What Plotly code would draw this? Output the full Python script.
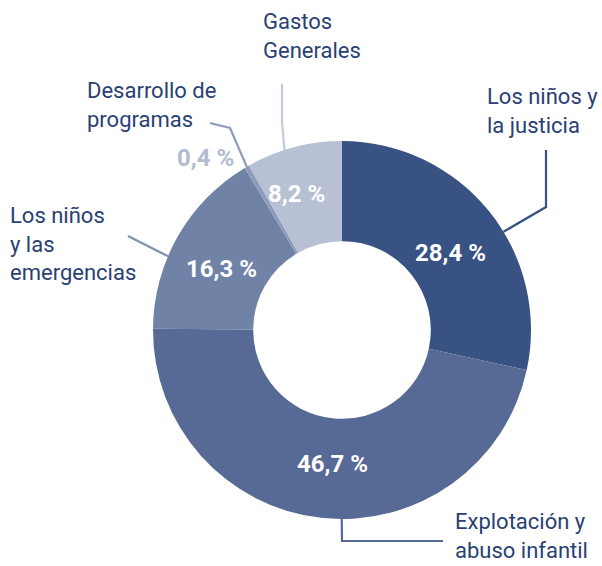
import math
import plotly.graph_objects as go

W, H = 602, 566

categories = ["Los niños y<br>la justicia", "Explotación y<br>abuso infantil",
              "Los niños<br>y las<br>emergencias", "Desarrollo de<br>programas",
              "Gastos<br>Generales"]
values = [28.4, 46.7, 16.3, 0.4, 8.2]
pct_labels = ["28,4 %", "46,7 %", "16,3 %", "0,4 %", "8,2 %"]
colors = ["#385283", "#566a95", "#7083a7", "#8e9cbb", "#b8c1d4"]
line_colors = ["#385283", "#566a95", "#7f90b0", "#8e9cbb", "#c3cad9"]

# geometry (layout)
CX, CY, R = 342, 330, 189
HOLE = 0.47
FONT = "Roboto"
NAVY = "#2a3f74"

def X(px):
    return px / W

def Y(py):
    return 1 - py / H

fig = go.Figure()
fig.add_trace(go.Pie(
    values=values, labels=categories, sort=False, direction="clockwise",
    rotation=0, hole=HOLE, marker=dict(colors=colors, line=dict(width=0)),
    textinfo="none", hoverinfo="skip", showlegend=False,
    domain=dict(x=[X(CX - R), X(CX + R)], y=[Y(CY + R), Y(CY - R)]),
))

total = sum(values)
starts, cum = [], 0.0
for v in values:
    starts.append(cum)
    cum += v

def point(i, frac, r):
    ang = (starts[i] + frac * values[i]) / total * 2 * math.pi
    return CX + r * math.sin(ang), CY - r * math.cos(ang)

annotations = []
# percentage labels
rmid = R * (1 + HOLE) / 2
inside_offsets = {0: (0, 10), 1: (6, -4), 2: (0, 8), 4: (-10, -2)}
for i, t in enumerate(pct_labels):
    if i == 3:
        continue
    x, y = point(i, 0.5, rmid)
    dx, dy = inside_offsets.get(i, (0, 0))
    annotations.append(dict(x=X(x + dx), y=Y(y + dy), xref="paper", yref="paper",
                            text=f"<b>{t}</b>", showarrow=False,
                            font=dict(family=FONT, size=24, color="white"),
                            xanchor="center", yanchor="middle"))
annotations.append(dict(x=X(205), y=Y(158), xref="paper", yref="paper",
                        text=f"<b>{pct_labels[3]}</b>", showarrow=False,
                        font=dict(family=FONT, size=24, color="#b2bccf"),
                        xanchor="center", yanchor="middle"))

# name labels: (left x, center y, vertical anchor)
name_pos = [(485, 111, "middle"), (453, 565, "bottom"), (8, 244, "middle"),
            (85, 105, "middle"), (261, 36, "middle")]
for i, (lx, ly, ya) in enumerate(name_pos):
    annotations.append(dict(x=X(lx), y=Y(ly), xref="paper", yref="paper",
                            text=categories[i], showarrow=False, align="left",
                            font=dict(family=FONT, size=22, color=NAVY),
                            xanchor="left", yanchor=ya))

# leader lines: anchor (slice index, fraction within slice) + elbow points
leaders = [
    (0, 0.574, [(546, 207), (546, 150)]),
    (1, 0.463, [(342, 541), (443, 541)]),
    (2, 0.385, [(128, 236)]),
    (3, 0.5, [(230, 128), (210, 123)]),
    (4, 0.40, [(282, 122), (282, 84)]),
]
shapes = []
for i, frac, pts in leaders:
    sx, sy = point(i, frac, R)
    path_pts = [(sx, sy)] + pts
    d = "M " + " L ".join(f"{X(px):.5f},{Y(py):.5f}" for px, py in path_pts)
    shapes.append(dict(type="path", path=d, xref="paper", yref="paper",
                       line=dict(color=line_colors[i], width=2.2)))

fig.update_layout(width=W, height=H, margin=dict(l=0, r=0, t=0, b=0),
                  paper_bgcolor="white", plot_bgcolor="white",
                  annotations=annotations, shapes=shapes)
fig.write_html("out.html", config={"displayModeBar": False},
               post_script="document.body.style.margin='0';document.body.style.overflow='hidden';")
